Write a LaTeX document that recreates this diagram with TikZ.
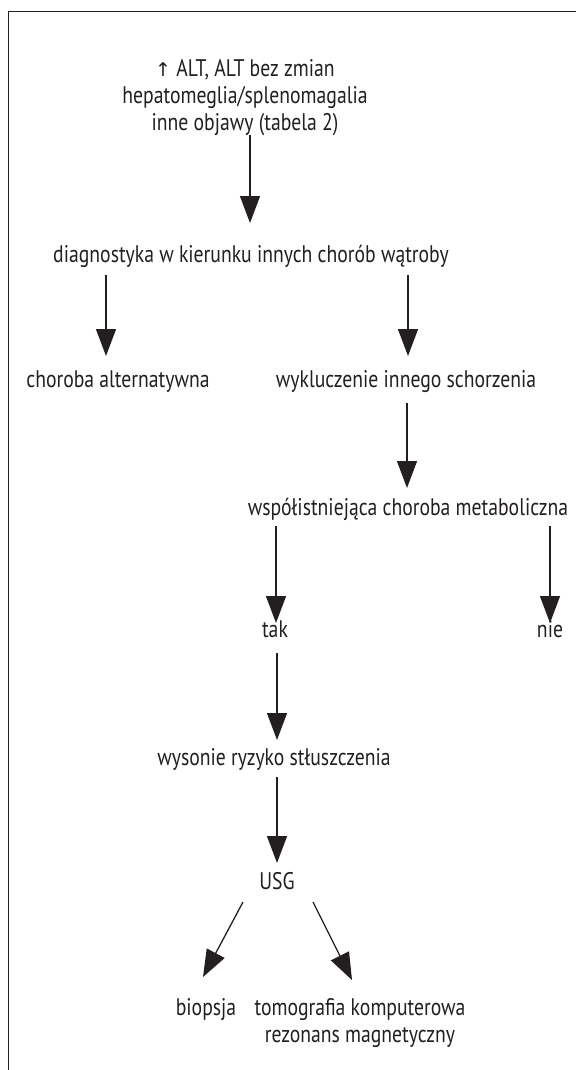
\documentclass[tikz,border=0pt]{standalone}
\usepackage{fontspec}
\setmainfont[FakeStretch=0.82]{PT Sans}
\newfontfamily\symfont{DejaVu Sans}
\usetikzlibrary{arrows.meta}
\definecolor{ink}{HTML}{231F20}
\begin{document}
\begin{tikzpicture}[x=1pt,y=-1pt,
  lbl/.style={font=\fontsize{24}{27}\selectfont, text=ink, inner sep=0pt, align=center, anchor=base},
  arr/.style={draw=ink, line width=1.3pt, -{Triangle[width=20pt,length=27pt]}}]
\useasboundingbox (0,0) rectangle (576,1070);
\fill[white] (0,0) rectangle (576,1070);
\draw[ink, line width=1pt] (8.5,1070) -- (8.5,12) -- (576,12);
% nodes (base anchor = baseline of the last line)
\node[lbl] (top) at (245,131) {{\symfont\fontsize{19}{27}\selectfont ↑} ALT, ALT bez zmian\\hepatomeglia/splenomagalia\\inne objawy (tabela 2)};
\node[lbl] (diag) at (251,262) {diagnostyka w kierunku innych chorób wątroby};
\node[lbl] (alt) at (118,387) {choroba alternatywna};
\node[lbl] (wyk) at (406,387) {wykluczenie innego schorzenia};
\node[lbl] (wsp) at (408,515) {współistniejąca choroba metaboliczna};
\node[lbl] (tak) at (275,637) {tak};
\node[lbl] (nie) at (550,637) {nie};
\node[lbl] (ryz) at (274,765) {wysonie ryzyko stłuszczenia};
\node[lbl] (usg) at (277,889) {USG};
\node[lbl] (bio) at (206,1015) {biopsja};
\node[lbl] (tk) at (360,1042) {tomografia komputerowa\\rezonans magnetyczny};
% connector ends
\coordinate (a1s) at (250,135); \coordinate (a1e) at (250,223);
\coordinate (a2s) at (106,275); \coordinate (a2e) at (106,356);
\coordinate (a3s) at (408,275); \coordinate (a3e) at (408,356);
\coordinate (a4s) at (407,403); \coordinate (a4e) at (407,488);
\coordinate (a5s) at (276,526); \coordinate (a5e) at (276,623);
\coordinate (a6s) at (550,526); \coordinate (a6e) at (550,623);
\coordinate (a7s) at (277,653); \coordinate (a7e) at (277,740);
\coordinate (a8s) at (277,777); \coordinate (a8e) at (277,863);
\coordinate (a9s) at (243,902); \coordinate (a9e) at (203,977);
\coordinate (a10s) at (313,902); \coordinate (a10e) at (352,980);
\draw[arr] (a1s) -- (a1e);
\draw[arr] (a2s) -- (a2e);
\draw[arr] (a3s) -- (a3e);
\draw[arr] (a4s) -- (a4e);
\draw[arr] (a5s) -- (a5e);
\draw[arr] (a6s) -- (a6e);
\draw[arr] (a7s) -- (a7e);
\draw[arr] (a8s) -- (a8e);
\draw[arr] (a9s) -- (a9e);
\draw[arr] (a10s) -- (a10e);
\end{tikzpicture}
\end{document}
